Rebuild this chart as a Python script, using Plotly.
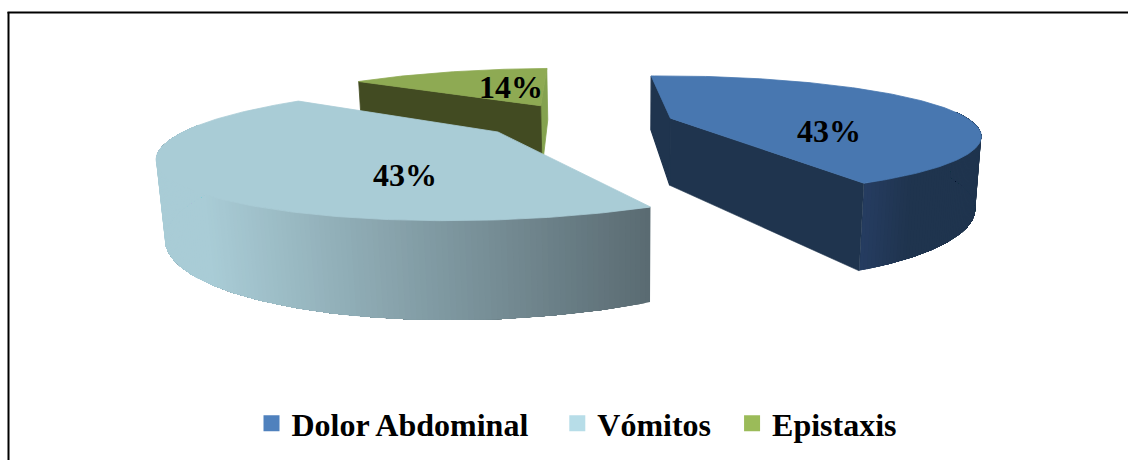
import math
import plotly.graph_objects as go

# --- data ---
categories = ["Dolor Abdominal", "Vómitos", "Epistaxis"]
values = [43, 43, 14]

# --- colours ---
legend_colors = ["#4f81bd", "#b7dde8", "#9bbb59"]
top_colors = ["#4877b0", "#a9ccd6", "#8eaa53"]
FONT = "Liberation Serif"

# --- 3D pie camera (pixel-based projection of a flat disc) ---
X0, YH, G, Q = 630.0, -95.0, 227.0, 1200.0
START = 92.7
HK, VX = 0.315, 4257.0
FRONT = 1.07
radii = {"Dolor Abdominal": 316.0, "Vómitos": 315.0, "Epistaxis": 310.0}
apexes = {"Dolor Abdominal": (43, 78), "Vómitos": (-132, 0), "Epistaxis": (-101, 157)}
label_xy = {"Dolor Abdominal": (829, 131), "Vómitos": (405, 175), "Epistaxis": (511, 87)}
legend_pad = {"Dolor Abdominal": 3, "Vómitos": 2, "Epistaxis": 0}


def top(X, Y):
    w = 1 + Y / Q
    return X0 + X / w, YH + G / w


def low(p):
    h = HK * (p[1] - YH)
    return p[0] - (p[0] - X0) * h / VX, p[1] + h


def lerp(c1, c2, t):
    t = max(0.0, min(1.0, t))
    a = [int(c1[i:i + 2], 16) for i in (1, 3, 5)]
    b = [int(c2[i:i + 2], 16) for i in (1, 3, 5)]
    return "rgb(%d,%d,%d)" % tuple(round(a[i] + (b[i] - a[i]) * t) for i in range(3))


def poly(fig, pts, color, lw=0.8):
    xs = [p[0] for p in pts] + [pts[0][0]]
    ys = [p[1] for p in pts] + [pts[0][1]]
    fig.add_trace(go.Scatter(x=xs, y=ys, mode="lines", fill="toself", fillcolor=color,
                             line=dict(color=color, width=lw), hoverinfo="skip", showlegend=False))


def wall_color(name, sx):
    if name == "Vómitos":
        return lerp("#a9ccd6", "#5a6b72", (sx - 205) / (652 - 205))
    return lerp("#253c60", "#1f344e", (sx - 865) / 45)


# slice angular ranges from the values
total = sum(values)
ranges = {}
a = START
for name, v in zip(categories, values):
    ranges[name] = (a, a - v / total * 360)
    a -= v / total * 360

fig = go.Figure()

for name in ["Epistaxis", "Dolor Abdominal", "Vómitos"]:
    col = top_colors[categories.index(name)]
    a0, a1 = ranges[name]
    cx, cy = apexes[name]
    R = radii[name]
    n = 200
    angs = [a0 + (a1 - a0) * i / n for i in range(n + 1)]
    rim = []
    for t in angs:
        s = math.sin(math.radians(t))
        rim.append(top(cx + R * math.cos(math.radians(t)),
                       cy + R * s * (FRONT if s < 0 else 1)))
    apex = top(cx, cy)
    # outer wall: painted as overlapping bands so that no seams show
    vis = [i for i in range(n + 1) if math.sin(math.radians(angs[i])) < 0.12]
    if len(vis) > 1:
        if name == "Dolor Abdominal":
            vis = vis[::-1]
        for k in range(len(vis) - 1):
            part = [rim[i] for i in vis[k:]]
            poly(fig, part + [low(p) for p in part[::-1]],
                 wall_color(name, rim[vis[k]][0]), lw=0)
    # radial faces
    if name == "Epistaxis":
        poly(fig, [apex, rim[-1], low(rim[-1]), low(apex)], "#84a24f")
        poly(fig, [apex, rim[0], low(rim[0]), low(apex)], "#424b22")
    elif name == "Dolor Abdominal":
        poly(fig, [apex, rim[0], low(rim[0]), low(apex)], "#1f344e", lw=1.2)
        poly(fig, [apex, rim[-1], low(rim[-1]), low(apex)], "#1f344e", lw=0.6)
    # top
    poly(fig, [apex] + rim, col)

# legend entries
for name, c in zip(categories, legend_colors):
    fig.add_trace(go.Scatter(x=[None], y=[None], mode="markers",
                             name=name + "\u00a0" * legend_pad[name],
                             marker=dict(symbol="square", size=16, color=c)))

# value labels
for name, v in zip(categories, values):
    x, y = label_xy[name]
    fig.add_annotation(x=x, y=y, xref="x", yref="y", text=f"<b>{v}%</b>", showarrow=False,
                       font=dict(family=FONT, size=32, color="#000000"))

fig.add_shape(type="line", x0=7.5, x1=1128, y0=12.5, y1=12.5, line=dict(color="black", width=2))
fig.add_shape(type="line", x0=8.5, x1=8.5, y0=12, y1=460, line=dict(color="black", width=2))

fig.update_layout(
    width=1128, height=460, margin=dict(l=0, r=0, t=0, b=0),
    paper_bgcolor="white", plot_bgcolor="white",
    xaxis=dict(range=[0, 1128], visible=False, fixedrange=True),
    yaxis=dict(range=[460, 0], visible=False, fixedrange=True),
    showlegend=True,
    legend=dict(orientation="h", x=577 / 1128, xanchor="center", y=(460 - 423.5) / 460, yanchor="middle",
                font=dict(family=FONT, size=32, color="black", weight="bold"),
                bgcolor="rgba(0,0,0,0)", itemclick=False, itemdoubleclick=False),
)
fig.write_html("out.html", post_script="document.body.style.margin='0';", config={"displayModeBar": False})
